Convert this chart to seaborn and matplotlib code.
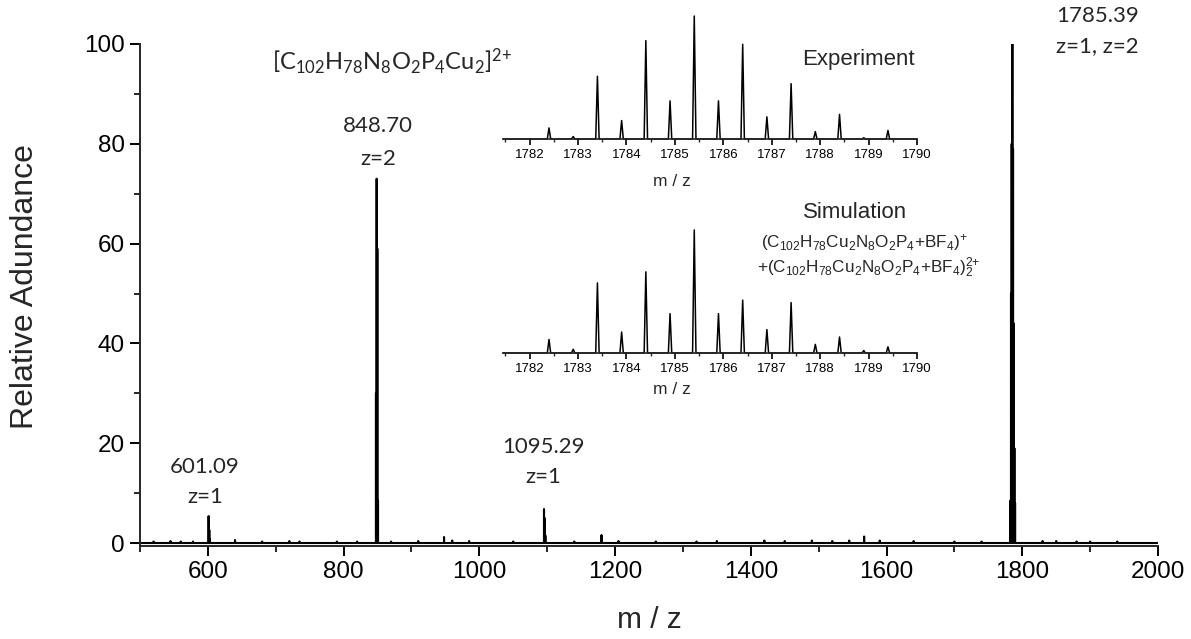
import numpy as np
import pandas as pd
import matplotlib
matplotlib.use("Agg")
import matplotlib.pyplot as plt
import seaborn as sns
from matplotlib.ticker import MultipleLocator

sns.set_theme(style="ticks")
plt.rcParams["font.family"] = ["Liberation Sans", "DejaVu Sans"]
plt.rcParams["mathtext.default"] = "regular"

# ---- full-range ESI-MS spectrum: stick list (m/z, relative abundance) ----
peak_mz = [601.09, 602.10, 603.10,
           847.70, 848.70, 849.70, 850.70,
           1095.29, 1096.30, 1097.30,
           1782.4, 1783.4, 1784.4, 1785.39, 1786.4, 1787.4, 1788.4, 1789.4]
peak_int = [5.4, 2.6, 0.8,
            30.0, 73.0, 59.0, 8.5,
            6.8, 5.0, 1.5,
            8.5, 50.0, 80.0, 100.0, 79.0, 44.0, 19.0, 8.0]

# weak background signals along the baseline
minor_mz = [520, 545, 560, 578, 640, 680, 720, 735, 790, 820, 870, 910, 948,
            960, 985, 1050, 1140, 1180, 1205, 1260, 1320, 1350, 1420, 1450,
            1490, 1520, 1545, 1567, 1590, 1640, 1700, 1740, 1830, 1850, 1880,
            1900, 1940]
minor_int = [0.3, 0.4, 0.3, 0.3, 0.6, 0.3, 0.4, 0.3, 0.3, 0.3, 0.3, 0.4, 1.2,
             0.5, 0.4, 0.3, 0.3, 1.6, 0.4, 0.3, 0.3, 0.4, 0.5, 0.4,
             0.5, 0.4, 0.5, 1.3, 0.5, 0.4, 0.3, 0.3, 0.4, 0.4, 0.3,
             0.3, 0.3]

# ---- isotope pattern of the m/z 1785 cluster (normalised) ----
iso_mz = [1782.4, 1782.9, 1783.4, 1783.9, 1784.4, 1784.9, 1785.4, 1785.9,
          1786.4, 1786.9, 1787.4, 1787.9, 1788.4, 1788.9, 1789.4]
exp_int = [0.09, 0.02, 0.51, 0.15, 0.80, 0.31, 1.00, 0.31,
           0.77, 0.18, 0.45, 0.06, 0.20, 0.01, 0.07]
sim_int = [0.11, 0.03, 0.57, 0.17, 0.66, 0.32, 1.00, 0.32,
           0.43, 0.19, 0.41, 0.07, 0.13, 0.02, 0.05]

main_ticks = [600, 800, 1000, 1200, 1400, 1600, 1800, 2000]
iso_ticks = [1782, 1783, 1784, 1785, 1786, 1787, 1788, 1789, 1790]

W, H = 1191, 639


def stick_profile(mz, inten, half_width, lo, hi):
    """Turn a stick list into a continuous centroid trace with narrow peaks."""
    order = np.argsort(mz)
    xs, ys = [lo], [0.0]
    for i in order:
        c, h = mz[i], inten[i]
        xs += [c - half_width, c, c + half_width]
        ys += [0.0, h, 0.0]
    xs.append(hi)
    ys.append(0.0)
    return pd.DataFrame({"mz": xs, "abundance": ys})


def fx(px):
    return px / W


def fy(py):
    return 1 - py / H


fig = plt.figure(figsize=(W / 100, H / 100), dpi=100)

# ---------------- main spectrum ----------------
ax = fig.add_axes([fx(140), fy(546), fx(1158) - fx(140), fy(44) - fy(546)])
main_df = stick_profile(peak_mz + minor_mz, peak_int + minor_int, 0.05, 500, 2000)
sns.lineplot(data=main_df, x="mz", y="abundance", ax=ax, color="black",
             lw=1.5, sort=False, estimator=None)
ax.set_xlim(500, 2000)
ax.set_ylim(-0.6, 100)
ax.set_xticks(main_ticks)
ax.xaxis.set_minor_locator(MultipleLocator(100))
ax.set_yticks([0, 20, 40, 60, 80, 100])
ax.yaxis.set_minor_locator(MultipleLocator(10))
ax.set_xlabel("")
ax.set_ylabel("")
for s in ["top", "right"]:
    ax.spines[s].set_visible(False)
for s in ["left", "bottom"]:
    ax.spines[s].set_linewidth(1.4)
ax.tick_params(which="major", direction="out", length=7, width=1.4,
               labelsize=17.5, pad=4, colors="black")
ax.tick_params(which="minor", direction="out", length=4, width=1.4)
ax.patch.set_alpha(0)

fig.text(fx(649), fy(620), "m / z", ha="center", va="center", fontsize=21.5)
fig.text(fx(25), fy(287), "Relative Adundance", ha="center", va="center",
         rotation=90, fontsize=23)

# peak annotations
lab_kw = dict(family=["Lato", "DejaVu Sans"], fontsize=16, va="center")
fig.text(fx(205), fy(467), "601.09", ha="center", **lab_kw)
fig.text(fx(205), fy(497), "z=1", ha="center", **lab_kw)
fig.text(fx(378), fy(126), "848.70", ha="center", **lab_kw)
fig.text(fx(378), fy(159), "z=2", ha="center", **lab_kw)
fig.text(fx(543), fy(447), "1095.29", ha="center", **lab_kw)
fig.text(fx(543), fy(477), "z=1", ha="center", **lab_kw)
fig.text(fx(1056), fy(16), "1785.39", ha="left", **lab_kw)
fig.text(fx(1056), fy(46), "z=1, z=2", ha="left", **lab_kw)
fig.text(fx(272), fy(62),
         r"$\mathregular{[C_{102}H_{78}N_8O_2P_4Cu_2]^{2{+}}}$",
         family=["Lato", "DejaVu Sans"], fontsize=17, ha="left", va="center")


# ---------------- isotope insets ----------------
def iso_inset(base_py, inten):
    a = fig.add_axes([fx(503), fy(base_py), fx(917) - fx(503),
                      fy(base_py - 123) - fy(base_py)])
    df = stick_profile(iso_mz, inten, 0.035, 1781.45, 1790)
    sns.lineplot(data=df, x="mz", y="abundance", ax=a, color="black",
                 lw=1.1, sort=False, estimator=None, clip_on=False)
    a.set_xlim(1781.45, 1790)
    a.set_ylim(0, 1.0)
    a.set_xticks(iso_ticks)
    a.xaxis.set_minor_locator(MultipleLocator(0.5))
    a.set_yticks([])
    a.set_xlabel("")
    a.set_ylabel("")
    for s in ["top", "right", "left"]:
        a.spines[s].set_visible(False)
    a.spines["bottom"].set_linewidth(1.2)
    a.tick_params(which="major", direction="out", length=4, width=1.2,
                  labelsize=9.5, pad=3, colors="black")
    a.tick_params(which="minor", direction="out", length=2.5, width=1.0)
    a.patch.set_alpha(0)
    return a


iso_inset(139, exp_int)
fig.text(fx(672), fy(182), "m / z", ha="center", va="center", fontsize=12.5)
fig.text(fx(858), fy(60), "Experiment", ha="center", va="center", fontsize=16)

iso_inset(353, sim_int)
fig.text(fx(672), fy(390), "m / z", ha="center", va="center", fontsize=12.5)
fig.text(fx(855), fy(212), "Simulation", ha="center", va="center", fontsize=16)
fig.text(fx(864), fy(243),
         r"$\mathregular{(C_{102}H_{78}Cu_2N_8O_2P_4{+}BF_4)^{+}}$",
         ha="center", va="center", fontsize=12.3)
fig.text(fx(980), fy(268),
         r"$\mathregular{{+}(C_{102}H_{78}Cu_2N_8O_2P_4{+}BF_4)_2^{2{+}}}$",
         ha="right", va="center", fontsize=12.3)

fig.savefig("out.png", dpi=100, facecolor="white")
